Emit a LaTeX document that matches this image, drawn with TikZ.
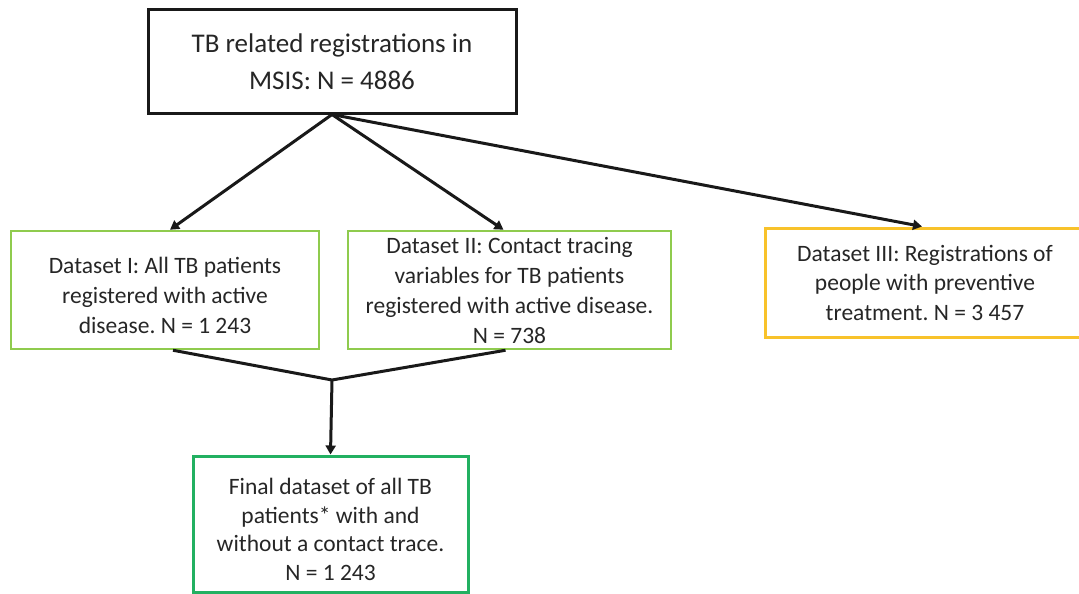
\documentclass[tikz,border=0pt]{standalone}
\usepackage{fontspec}
\setmainfont{Carlito}
\frenchspacing
\usetikzlibrary{arrows.meta,calc}
\definecolor{lgreen}{HTML}{8FCB4E}
\definecolor{dgreen}{HTML}{22B061}
\definecolor{gold}{HTML}{F8C22A}
\definecolor{txt}{HTML}{262626}
\tikzset{
  box/.style={draw, line width=3pt, rectangle, align=center, inner sep=4pt, text=txt},
  lnk/.style={line width=3pt, black!90},
  arr/.style={lnk, -{Triangle[length=9pt,width=10pt]}},
}
\newcommand{\downstrut}{\rule{0pt}{27pt}}
\begin{document}
\begin{tikzpicture}[x=1pt,y=-1pt]
\useasboundingbox (0,0) rectangle (1079,594);
\node[box, draw=black!90, minimum width=368pt, minimum height=103pt, font=\fontsize{27}{37}\selectfont] (top) at (332,61.5)
  {TB related registrations in\\MSIS: N = 4886};
\node[box, draw=lgreen, line width=2.5pt, minimum width=308pt, minimum height=118pt, font=\fontsize{23.5}{30}\selectfont] (b1) at (165,290)
  {\downstrut Dataset I: All TB patients\\registered with active\\disease. N = 1 243};
\node[box, draw=lgreen, line width=2.5pt, minimum width=323pt, minimum height=118pt, font=\fontsize{23.5}{30}\selectfont] (b2) at (509.5,290)
  {Dataset II: Contact tracing\\variables for TB patients\\registered with active disease.\\N = 738};
\node[box, draw=gold, minimum width=320pt, minimum height=109pt, font=\fontsize{23.5}{29.5}\selectfont] (b3) at (925,282.5)
  {Dataset III: Registrations of\\people with preventive\\treatment. N = 3 457};
\node[box, draw=dgreen, minimum width=275pt, minimum height=136pt, font=\fontsize{23.5}{28.5}\selectfont] (fin) at (330.5,524)
  {\rule{0pt}{27pt}Final dataset of all TB\\patients* with and\\without a contact trace.\\N = 1 243};
\coordinate (merge) at (332,380);
\draw[arr] (top.south) -- ([xshift=5pt]b1.north);
\draw[arr] (top.south) -- ([xshift=-6pt]b2.north);
\draw[arr] (top.south) -- ([xshift=-3pt]b3.north);
\draw[lnk] ([xshift=8pt]b1.south) -- (merge) -- ([xshift=-4pt]b2.south);
\draw[arr] (merge) -- (fin.north);
\end{tikzpicture}
\end{document}
